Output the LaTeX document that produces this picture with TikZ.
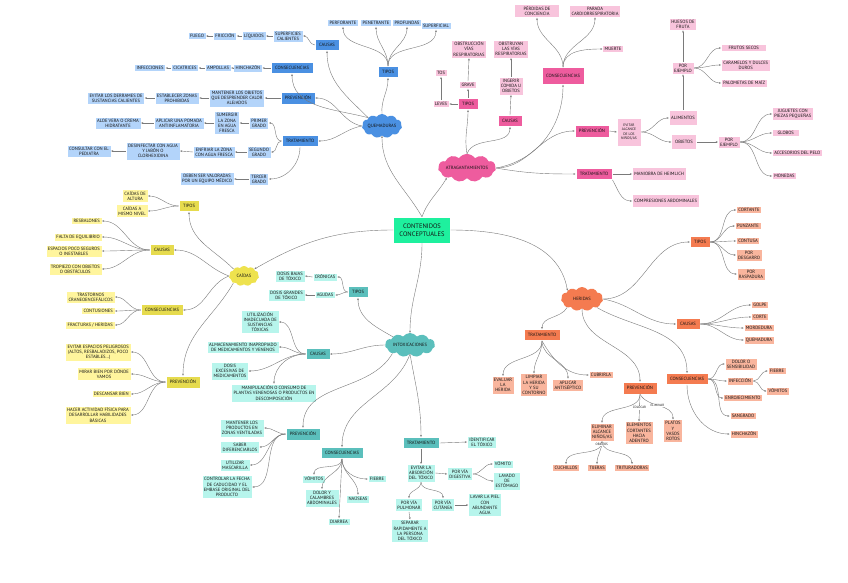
\documentclass[tikz,border=0pt]{standalone}
\usepackage{fontspec}
\setmainfont{PT Sans}
\usepackage{tikz}
\usetikzlibrary{shapes.symbols}
\usetikzlibrary{arrows.meta}

\definecolor{azulo}{HTML}{4A90E2}
\definecolor{azulc}{HTML}{B3D4FA}
\definecolor{rosao}{HTML}{EE5C9E}
\definecolor{rosac}{HTML}{F8C4DC}
\definecolor{amao}{HTML}{E6DB4E}
\definecolor{amac}{HTML}{FFF59D}
\definecolor{amanube}{HTML}{EEE24E}
\definecolor{turo}{HTML}{5BBFBC}
\definecolor{turc}{HTML}{B7F5EC}
\definecolor{naro}{HTML}{F47B50}
\definecolor{narc}{HTML}{F9B59D}
\definecolor{verde}{HTML}{1EF09E}
\definecolor{linea}{HTML}{7A7A7A}

\newcommand{\letra}{\fontsize{4.6}{5.1}\selectfont}
\newcommand{\letrina}{\fontsize{3.2}{3.8}\selectfont}

\begin{document}
\begin{tikzpicture}[
  x=1pt, y=-1pt,
  every node/.style={align=center, font=\letra, text=black!92},
  hoja/.style={rectangle, draw=white, line width=0.5pt, inner xsep=2pt, inner ysep=2pt},
  rama/.style={rectangle, draw=white, line width=0.5pt, inner xsep=4pt, inner ysep=4pt},
  nube/.style={cloud, cloud puffs=11, cloud puff arc=110, cloud ignores aspect, inner sep=0pt},
  qhoja/.style={hoja, fill=azulc}, qrama/.style={rama, fill=azulo},
  ahoja/.style={hoja, fill=rosac}, arama/.style={rama, fill=rosao},
  choja/.style={hoja, fill=amac},  crama/.style={rama, fill=amao},
  ihoja/.style={hoja, fill=turc},  irama/.style={rama, fill=turo},
  hhoja/.style={hoja, fill=narc},  hrama/.style={rama, fill=naro},
  flecha/.style={-{Stealth[length=2.2pt, width=1.8pt]}, draw=linea, line width=0.4pt},
  etiq/.style={font=\letrina, inner sep=0.6pt, fill=white}
]
\fill[white] (0, 0) rectangle (848, 583);
\useasboundingbox (0, 0) rectangle (848, 583);

\node[rectangle, fill=verde, draw=white, font=\fontsize{6.5}{7.6}\selectfont, minimum width=57pt, minimum height=26pt] (cc) at (422, 230) {CONTENIDOS\\CONCEPTUALES};

\node[nube, fill=azulo, minimum width=40pt, minimum height=24pt] (quem) at (382, 126) {QUEMADURAS};
\node[qrama] (qcau) at (327, 45)  {CAUSAS};
\node[qrama] (qtip) at (388, 72)  {TIPOS};
\node[qrama] (qcon) at (292, 68)  {CONSECUENCIAS};
\node[qrama] (qpre) at (298, 98)  {PREVENCIÓN};
\node[qrama] (qtra) at (300, 141) {TRATAMIENTO};
\node[qhoja] (perf) at (343, 23)  {PERFORANTE};
\node[qhoja] (pene) at (376, 23)  {PENETRANTE};
\node[qhoja] (prof) at (407, 23)  {PROFUNDAS};
\node[qhoja] (supl) at (436, 26)  {SUPERFICIAL};
\node[qhoja] (supc) at (288, 36)  {SUPERFICIES\\CALIENTES};
\node[qhoja] (liqu) at (254, 36)  {LÍQUIDOS};
\node[qhoja] (fric) at (225, 36)  {FRICCIÓN};
\node[qhoja] (fueg) at (197, 36)  {FUEGO};
\node[qhoja] (hinq) at (248, 68)  {HINCHAZÓN};
\node[qhoja] (ampo) at (218, 68)  {AMPOLLAS};
\node[qhoja] (cica) at (185, 68)  {CICATRICES};
\node[qhoja] (infe) at (150, 68)  {INFECCIONES};
\node[qhoja] (mant) at (237, 98)  {MANTENER LOS OBJETOS\\QUE DESPRENDER CALOR\\ALEJADOS};
\node[qhoja] (esta) at (177, 98)  {ESTABLECER ZONAS\\PROHIBIDAS};
\node[qhoja] (evid) at (116, 98)  {EVITAR LOS DERRAMES DE\\SUSTANCIAS CALIENTES};
\node[qhoja] (prim) at (259, 123) {PRIMER\\GRADO};
\node[qhoja] (segu) at (259, 152) {SEGUNDO\\GRADO};
\node[qhoja] (terc) at (259, 179) {TERCER\\GRADO};
\node[qhoja] (sume) at (227, 123) {SUMERGIR\\LA ZONA\\EN AGUA\\FRESCA};
\node[qhoja] (poma) at (179, 123) {APLICAR UNA POMADA\\ANTIINFLAMATORIA};
\node[qhoja] (aloe) at (118, 123) {ALOE VERA O CREMA\\HIDRATANTE};
\node[qhoja] (enfr) at (214, 152) {ENFRIAR LA ZONA\\CON AGUA FRESCA};
\node[qhoja] (desi) at (153, 151) {DESINFECTAR CON AGUA\\Y JABÓN O\\CLORHEXIDINA};
\node[qhoja] (cons) at (89, 151)  {CONSULTAR CON EL\\PEDIATRA};
\node[qhoja] (debe) at (207, 179) {DEBEN SER VALORADAS\\POR UN EQUIPO MÉDICO};

\node[nube, fill=rosao, minimum width=54pt, minimum height=28pt] (atra) at (467, 168) {ATRAGANTAMIENTOS};
\node[arama] (atip) at (468, 104) {TIPOS};
\node[ahoja] (leve) at (441, 104) {LEVES};
\node[ahoja] (tos)  at (441, 73)  {TOS};
\node[ahoja] (grav) at (468, 85)  {GRAVE};
\node[ahoja] (obsv) at (469, 49)  {OBSTRUCCIÓN\\VÍAS\\RESPIRATORIAS};
\node[arama] (acau) at (510, 121) {CAUSAS};
\node[ahoja] (inge) at (511, 86)  {INGERIR\\COMIDA U\\OBJETOS};
\node[ahoja] (obsy) at (511, 49)  {OBSTRUYAN\\LAS VÍAS\\RESPIRATORIAS};
\node[arama, minimum height=17pt] (acon) at (563, 76) {CONSECUENCIAS};
\node[ahoja, minimum width=45pt] (perd) at (537, 11) {PÉRDIDAS DE\\CONCIENCIA};
\node[ahoja] (para) at (595, 11) {PARADA\\CARDIORRESPIRATORIA};
\node[ahoja] (muer) at (613, 49) {MUERTE};
\node[arama] (apre) at (592, 131) {PREVENCIÓN};
\node[arama] (atrt) at (594, 174) {TRATAMIENTO};
\node[ahoja, font=\fontsize{3.6}{4.4}\selectfont, minimum width=24pt, minimum height=28pt] (alca) at (629, 132) {EVITAR\\ALCANCE\\DE LOS\\NIÑOS/AS};
\node[ahoja, minimum width=28pt, minimum height=15pt] (alim) at (683, 118) {ALIMENTOS};
\node[ahoja, minimum width=25pt, minimum height=15pt] (obje) at (684, 142) {OBJETOS};
\node[ahoja] (ejem) at (683, 68)  {POR\\EJEMPLO};
\node[ahoja] (hues) at (683, 24)  {HUESOS DE\\FRUTA};
\node[ahoja, anchor=west, minimum width=45pt] (frut) at (721, 48) {FRUTOS SECOS};
\node[ahoja, anchor=west] (cara) at (721, 65) {CARAMELOS Y DULCES\\DUROS};
\node[ahoja, anchor=west] (palo) at (721, 83) {PALOMETAS DE MAÍZ};
\node[ahoja] (ejeo) at (729, 142) {POR\\EJEMPLO};
\node[ahoja, anchor=west] (jugu) at (772, 114) {JUGUETES CON\\PIEZAS PEQUEÑAS};
\node[ahoja, anchor=west, minimum width=27pt] (glob) at (772, 133) {GLOBOS};
\node[ahoja, anchor=west] (acce) at (772, 153) {ACCESORIOS DEL PELO};
\node[ahoja, anchor=west] (mone) at (772, 176) {MONEDAS};
\node[ahoja, anchor=west, minimum height=13pt] (heim) at (632, 174) {MANIOBRA DE HEIMLICH};
\node[ahoja, anchor=west, minimum height=13pt] (comp) at (632, 201) {COMPRESIONES ABDOMINALES};

\node[nube, fill=amanube, minimum width=30pt, minimum height=20pt] (caid) at (244, 276) {CAÍDAS};
\node[crama] (ctip) at (189, 206) {TIPOS};
\node[choja, anchor=east] (alt)  at (148, 196) {CAÍDAS DE\\ALTURA};
\node[choja, anchor=east] (niv)  at (148, 211) {CAÍDAS A\\MISMO NIVEL};
\node[crama] (ccau) at (162, 250) {CAUSAS};
\node[choja, anchor=east] (resb) at (102, 221) {RESBALONES};
\node[choja, anchor=east] (falt) at (102, 237) {FALTA DE EQUILIBRIO};
\node[choja, anchor=east] (espa) at (102, 251) {ESPACIOS POCO SEGUROS\\O INESTABLES};
\node[choja, anchor=east] (trop) at (102, 269) {TROPIEZO CON OBJETOS\\O OBSTÁCULOS};
\node[crama] (ccon) at (162, 310) {CONSECUENCIAS};
\node[choja, anchor=east] (tras) at (115, 297) {TRASTORNOS\\CRANEOENCEFÁLICOS};
\node[choja, anchor=east] (cont) at (115, 311) {CONTUSIONES};
\node[choja, anchor=east] (frac) at (115, 325) {FRACTURAS / HERIDAS};
\node[crama] (cpre) at (183, 382) {PREVENCIÓN};
\node[choja, anchor=east] (evie) at (131, 352) {EVITAR ESPACIOS PELIGROSOS\\(ALTOS, RESBALADIZOS, POCO\\ESTABLES...)};
\node[choja, anchor=east] (mira) at (131, 374) {MIRAR BIEN POR DÓNDE\\VAMOS};
\node[choja, anchor=east] (desc) at (131, 394) {DESCANSAR BIEN};
\node[choja, anchor=east] (hace) at (131, 415) {HACER ACTIVIDAD FÍSICA PARA\\DESARROLLAR HABILIDADES\\BÁSICAS};

\node[nube, fill=turo, minimum width=50pt, minimum height=24pt] (into) at (410, 345) {INTOXICACIONES};
\node[irama] (itip) at (358, 292) {TIPOS};
\node[ihoja] (cron) at (325, 277) {CRÓNICAS};
\node[ihoja] (agud) at (325, 295) {AGUDAS};
\node[ihoja, anchor=east] (bajo) at (305, 276) {DOSIS BAJAS\\DE TÓXICO};
\node[ihoja, anchor=east] (gran) at (305, 295) {DOSIS GRANDES\\DE TÓXICO};
\node[irama] (icau) at (318, 354) {CAUSAS};
\node[ihoja, anchor=east] (util) at (279, 322) {UTILIZACIÓN\\INADECUADA DE\\SUSTANCIAS\\TÓXICAS};
\node[ihoja, anchor=east] (alma) at (279, 347) {ALMACENAMIENTO INAPROPIADO\\DE MEDICAMENTOS Y VENENOS};
\node[ihoja] (dosi) at (230, 371) {DOSIS\\EXCESIVAS DE\\MEDICAMENTOS};
\node[ihoja] (mani) at (274, 393) {MANIPULACIÓN O CONSUMO DE\\PLANTAS VENENOSAS O PRODUCTOS EN\\DESCOMPOSICIÓN};
\node[irama] (ipre) at (303, 434) {PREVENCIÓN};
\node[ihoja] (vent) at (242, 428) {MANTENER LOS\\PRODUCTOS EN\\ZONAS VENTILADAS};
\node[ihoja] (sabe) at (240, 447) {SABER\\DIFERENCIARLOS};
\node[ihoja] (masc) at (235, 465) {UTILIZAR\\MASCARILLA};
\node[ihoja] (cadu) at (227, 487) {CONTROLAR LA FECHA\\DE CADUCIDAD Y EL\\EMBASE ORIGINAL DEL\\PRODUCTO};
\node[irama] (icon) at (342, 453) {CONSECUENCIAS};
\node[ihoja] (ivom) at (314, 479) {VÓMITOS};
\node[ihoja] (dolo) at (322, 498) {DOLOR Y\\CALAMBRES\\ABDOMINALES};
\node[ihoja] (diar) at (339, 522) {DIARREA};
\node[ihoja] (naus) at (358, 499) {NAÚSEAS};
\node[ihoja] (fieb) at (377, 479) {FIEBRE};
\node[irama] (itra) at (421, 443) {TRATAMIENTO};
\node[ihoja] (iden) at (482, 442) {IDENTIFICAR\\EL TÓXICO};
\node[ihoja] (abso) at (421, 473) {EVITAR LA\\ABSORCIÓN\\DEL TÓXICO};
\node[ihoja] (dige) at (460, 474) {POR VÍA\\DIGESTIVA};
\node[ihoja] (vomi) at (503, 464) {VÓMITO};
\node[ihoja] (lava) at (507, 481) {LAVADO\\DE\\ESTÓMAGO};
\node[ihoja] (pulm) at (409, 505) {POR VÍA\\PULMONAR};
\node[ihoja] (sepa) at (410, 531) {SEPARAR\\RAPIDAMENTE A\\LA PERSONA\\DEL TÓXICO};
\node[ihoja] (cuta) at (443, 505) {POR VÍA\\CUTÁNEA};
\node[ihoja] (piel) at (485, 505) {LAVAR  LA PIEL\\CON\\ABUNDANTE\\AGUA};

\node[nube, fill=naro, minimum width=42pt, minimum height=24pt] (heri) at (582, 299) {HERIDAS};
\node[hrama] (htra) at (542, 335) {TRATAMIENTO};
\node[hhoja] (eval) at (503, 385) {EVALUAR\\LA\\HERIDA};
\node[hhoja] (limp) at (534, 385) {LIMPIAR\\LA HERIDA\\Y SU\\CONTORNO};
\node[hhoja] (apli) at (568, 385) {APLICAR\\ANTISÉPTICO};
\node[hhoja] (cubr) at (601, 375) {CUBRIRLA};
\node[hrama] (htip) at (700, 242) {TIPOS};
\node[hhoja] (cort) at (749, 210) {CORTANTE};
\node[hhoja] (punz) at (748, 226) {PUNZANTE};
\node[hhoja] (cntu) at (748, 241) {CONTUSA};
\node[hhoja] (desg) at (749, 255) {POR\\DESGARRO};
\node[hhoja] (rasp) at (751, 274) {POR\\RASPADURA};
\node[hrama] (hcau) at (688, 324) {CAUSAS};
\node[hhoja] (golp) at (760, 305) {GOLPE};
\node[hhoja] (corr) at (760, 317) {CORTE};
\node[hhoja] (mord) at (759, 328) {MORDEDURA};
\node[hhoja] (hque) at (759, 340) {QUEMADURA};
\node[hrama] (hcon) at (687, 379) {CONSECUENCIAS};
\node[hhoja] (dolr) at (741, 364) {DOLOR O\\SENSIBILIDAD};
\node[hhoja] (infc) at (740, 381) {INFECCIÓN};
\node[hhoja] (hfie) at (777, 371) {FIEBRE};
\node[hhoja] (hvom) at (778, 391) {VÓMITOS};
\node[hhoja] (enro) at (743, 398) {ENROJECIMIENTO};
\node[hhoja] (sang) at (743, 416) {SANGRADO};
\node[hhoja] (hinh) at (744, 434) {HINCHAZÓN};
\node[hrama] (hpre) at (640, 388) {PREVENCIÓN};
\node[hhoja] (elim) at (602, 432) {ELIMINAR\\ALCANCE\\NIÑOS/AS};
\node[hhoja] (elem) at (639, 433) {ELEMENTOS\\CORTANTES\\HACIA\\ADENTRO};
\node[hhoja] (plat) at (673, 431) {PLATOS\\Y\\VASOS\\ROTOS};
\node[hhoja] (cuch) at (566, 468) {CUCHILLOS};
\node[hhoja] (tije) at (597, 468) {TIJERAS};
\node[hhoja] (trit) at (632, 468) {TRITURADORAS};

\draw[flecha] (cc.north) to[out=120, in=-90] (quem.south);
\draw[flecha] (quem.north) to[out=95, in=-90] (qtip.south);
\draw[flecha] (quem.north west) to[out=135, in=-90] (qcau.south);
\draw[flecha] (quem.north west) to[out=165, in=-90] (qcon.south);
\draw[flecha] (quem.west) to[out=170, in=0] (qpre.east);
\draw[flecha] (quem.west) to[out=190, in=0] (qtra.east);
\draw[flecha] (qtip.north) to[out=90, in=-90] (perf.south);
\draw[flecha] (qtip.north) to[out=90, in=-90] (pene.south);
\draw[flecha] (qtip.north) to[out=90, in=-90] (prof.south);
\draw[flecha] (qtip.north) to[out=90, in=-90] (supl.south);
\draw[flecha] (qcau.west) to[out=180, in=0] (supc.east);
\draw[flecha] (supc.west) -- (liqu.east);
\draw[flecha] (liqu.west) -- (fric.east);
\draw[flecha] (fric.west) -- (fueg.east);
\draw[flecha] (qcon.west) -- (hinq.east);
\draw[flecha] (hinq.west) -- (ampo.east);
\draw[flecha] (ampo.west) -- (cica.east);
\draw[flecha] (cica.west) -- (infe.east);
\draw[flecha] (qpre.west) -- (mant.east);
\draw[flecha] (mant.west) -- (esta.east);
\draw[flecha] (esta.west) -- (evid.east);
\draw[flecha] (qtra.west) to[out=180, in=0] (prim.east);
\draw[flecha] (qtra.west) to[out=180, in=0] (segu.east);
\draw[flecha] (qtra.south) to[out=-90, in=0] (terc.east);
\draw[flecha] (prim.west) -- (sume.east);
\draw[flecha] (sume.west) -- (poma.east);
\draw[flecha] (poma.west) -- (aloe.east);
\draw[flecha] (segu.west) -- (enfr.east);
\draw[flecha] (enfr.west) -- (desi.east);
\draw[flecha] (desi.west) -- (cons.east);
\draw[flecha] (terc.west) -- (debe.east);

\draw[flecha] (cc.north) to[out=70, in=-120] (atra.south west);
\draw[flecha] (atra.north) to[out=100, in=-90] (atip.south);
\draw[flecha] (atip.west) -- (leve.east);
\draw[flecha] (leve.north) -- (tos.south);
\draw[flecha] (atip.north) -- (grav.south);
\draw[flecha] (grav.north) -- (obsv.south);
\draw[flecha] (atra.north) to[out=70, in=-90] (acau.south);
\draw[flecha] (acau.north) -- (inge.south);
\draw[flecha] (inge.north) -- (obsy.south);
\draw[flecha] (atra.east) to[out=10, in=-90] (acon.south);
\draw[flecha] (acon.north) to[out=90, in=-90] (perd.south);
\draw[flecha] (acon.north) to[out=90, in=-90] (para.south);
\draw[flecha] (acon.north) to[out=90, in=180] (muer.west);
\draw[flecha] (atra.east) to[out=0, in=180] (apre.west);
\draw[flecha] (atra.east) to[out=-10, in=180] (atrt.west);
\draw[flecha] (apre.east) -- (alca.west);
\draw[flecha] (alca.east) to[out=0, in=180] (alim.west);
\draw[flecha] (alca.east) to[out=0, in=180] (obje.west);
\draw[flecha] (alim.north) -- (ejem.south);
\draw[flecha] (ejem.north) -- (hues.south);
\draw[flecha] (ejem.east) to[out=0, in=180] (frut.west);
\draw[flecha] (ejem.east) to[out=0, in=180] (cara.west);
\draw[flecha] (ejem.east) to[out=0, in=180] (palo.west);
\draw[flecha] (obje.east) -- (ejeo.west);
\draw[flecha] (ejeo.east) to[out=0, in=180] (jugu.west);
\draw[flecha] (ejeo.east) to[out=0, in=180] (glob.west);
\draw[flecha] (ejeo.east) to[out=0, in=180] (acce.west);
\draw[flecha] (ejeo.east) to[out=0, in=180] (mone.west);
\draw[flecha] (atrt.east) -- (heim.west);
\draw[flecha] (atrt.south east) to[out=-60, in=180] (comp.west);

\draw[flecha] (cc.west) to[out=180, in=30] (caid.north east);
\draw[flecha] (caid.north west) to[out=135, in=-90] (ctip.south);
\draw[flecha] (caid.west) to[out=160, in=0] (ccau.east);
\draw[flecha] (caid.west) to[out=200, in=0] (ccon.east);
\draw[flecha] (caid.south west) to[out=-120, in=90] (cpre.north);
\draw[flecha] (ctip.west) to[out=180, in=0] (alt.east);
\draw[flecha] (ctip.west) to[out=180, in=0] (niv.east);
\draw[flecha] (ccau.west) to[out=180, in=0] (resb.east);
\draw[flecha] (ccau.west) to[out=180, in=0] (falt.east);
\draw[flecha] (ccau.west) to[out=180, in=0] (espa.east);
\draw[flecha] (ccau.west) to[out=180, in=0] (trop.east);
\draw[flecha] (ccon.west) to[out=180, in=0] (tras.east);
\draw[flecha] (ccon.west) to[out=180, in=0] (cont.east);
\draw[flecha] (ccon.west) to[out=180, in=0] (frac.east);
\draw[flecha] (cpre.west) to[out=180, in=0] (evie.east);
\draw[flecha] (cpre.west) to[out=180, in=0] (mira.east);
\draw[flecha] (cpre.west) to[out=180, in=0] (desc.east);
\draw[flecha] (cpre.west) to[out=180, in=0] (hace.east);

\draw[flecha] (cc.south) to[out=-90, in=90] (into.north);
\draw[flecha] (into.north west) to[out=150, in=-90] (itip.south);
\draw[flecha] (into.west) to[out=180, in=0] (icau.east);
\draw[flecha] (into.south west) to[out=-120, in=90] (ipre.north);
\draw[flecha] (into.south) to[out=-110, in=90] (icon.north);
\draw[flecha] (into.south) to[out=-80, in=90] (itra.north);
\draw[flecha] (itip.west) to[out=180, in=0] (cron.east);
\draw[flecha] (itip.west) to[out=180, in=0] (agud.east);
\draw[flecha] (cron.west) -- (bajo.east);
\draw[flecha] (agud.west) -- (gran.east);
\draw[flecha] (icau.west) to[out=180, in=0] (util.east);
\draw[flecha] (icau.west) to[out=180, in=0] (alma.east);
\draw[flecha] (icau.west) to[out=180, in=0] (dosi.east);
\draw[flecha] (icau.west) to[out=180, in=90] (mani.north);
\draw[flecha] (ipre.west) to[out=180, in=0] (vent.east);
\draw[flecha] (ipre.west) to[out=180, in=0] (sabe.east);
\draw[flecha] (ipre.west) to[out=180, in=0] (masc.east);
\draw[flecha] (ipre.west) to[out=180, in=0] (cadu.east);
\draw[flecha] (icon.south) to[out=-90, in=90] (ivom.north);
\draw[flecha] (icon.south) to[out=-90, in=90] (dolo.north);
\draw[flecha] (icon.south) -- (diar.north);
\draw[flecha] (icon.south) to[out=-90, in=90] (naus.north);
\draw[flecha] (icon.south) to[out=-90, in=180] (fieb.west);
\draw[flecha] (itra.east) -- (iden.west);
\draw[flecha] (itra.south) -- (abso.north);
\draw[flecha] (abso.east) -- (dige.west);
\draw[flecha] (dige.east) to[out=0, in=180] (vomi.west);
\draw[flecha] (dige.east) to[out=0, in=180] (lava.west);
\draw[flecha] (abso.south) to[out=-90, in=90] (pulm.north);
\draw[flecha] (abso.south) to[out=-90, in=90] (cuta.north);
\draw[flecha] (pulm.south) -- (sepa.north);
\draw[flecha] (cuta.east) -- (piel.west);

\draw[flecha] (cc.east) to[out=0, in=100] (heri.north west);
\draw[flecha] (heri.south west) to[out=-120, in=90] (htra.north);
\draw[flecha] (heri.east) to[out=0, in=180] (htip.west);
\draw[flecha] (heri.east) to[out=-10, in=180] (hcau.west);
\draw[flecha] (heri.south east) to[out=-30, in=90] (hcon.north);
\draw[flecha] (heri.south) to[out=-90, in=90] (hpre.north);
\draw[flecha] (htra.south) to[out=-90, in=90] (eval.north);
\draw[flecha] (htra.south) to[out=-90, in=90] (limp.north);
\draw[flecha] (htra.south) to[out=-90, in=90] (apli.north);
\draw[flecha] (htra.south) to[out=-60, in=180] (cubr.west);
\draw[flecha] (htip.east) to[out=0, in=180] (cort.west);
\draw[flecha] (htip.east) to[out=0, in=180] (punz.west);
\draw[flecha] (htip.east) to[out=0, in=180] (cntu.west);
\draw[flecha] (htip.east) to[out=0, in=180] (desg.west);
\draw[flecha] (htip.east) to[out=0, in=180] (rasp.west);
\draw[flecha] (hcau.east) to[out=0, in=180] (golp.west);
\draw[flecha] (hcau.east) to[out=0, in=180] (corr.west);
\draw[flecha] (hcau.east) to[out=0, in=180] (mord.west);
\draw[flecha] (hcau.east) to[out=0, in=180] (hque.west);
\draw[flecha] (hcon.east) to[out=0, in=180] (dolr.west);
\draw[flecha] (hcon.east) to[out=0, in=180] (infc.west);
\draw[flecha] (hcon.east) to[out=0, in=180] (enro.west);
\draw[flecha] (hcon.east) to[out=0, in=180] (sang.west);
\draw[flecha] (hcon.south) to[out=-90, in=180] (hinh.west);
\draw[flecha] (infc.east) to[out=0, in=180] (hfie.west);
\draw[flecha] (infc.east) to[out=0, in=180] (hvom.west);
\draw[flecha] (hpre.south) to[out=-90, in=90] (elim.north);
\draw[flecha] (hpre.south) -- node[etiq] {COLOCAR} (elem.north);
\draw[flecha] (hpre.south) to[out=-60, in=90] node[etiq, pos=0.45] {ELIMINAR} (plat.north);
\draw[flecha] (elim.south) to[out=-90, in=90] (cuch.north);
\draw[flecha] (elim.south) to[out=-90, in=90] node[etiq, pos=0.12] {OBJETOS} (tije.north);
\draw[flecha] (elim.south) to[out=-90, in=90] (trit.north);
\end{tikzpicture}
\end{document}
